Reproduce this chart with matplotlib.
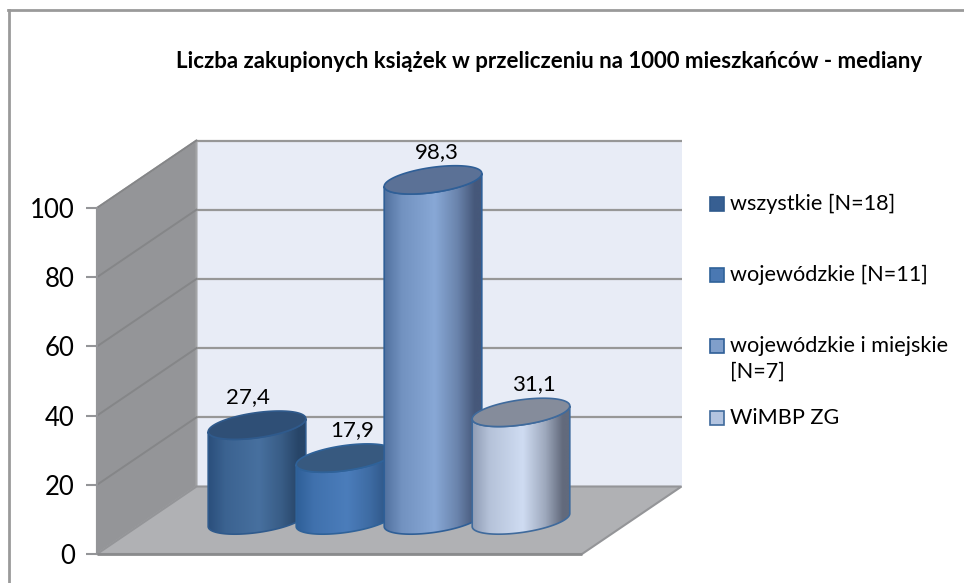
import matplotlib
matplotlib.use('Agg')
import matplotlib.pyplot as plt
import numpy as np
from matplotlib.patches import Polygon
from matplotlib.colors import LinearSegmentedColormap, to_rgb

plt.rcParams['font.family'] = ['Lato', 'DejaVu Sans']

title = 'Liczba zakupionych książek w przeliczeniu na 1000 mieszkańców - mediany'
series_names = ['wszystkie [N=18]', 'wojewódzkie [N=11]',
                'wojewódzkie i miejskie\n[N=7]', 'WiMBP ZG']
values = [27.4, 17.9, 98.3, 31.1]
value_labels = ['27,4', '17,9', '98,3', '31,1']
y_ticks = [0, 20, 40, 60, 80, 100]

edge_colors = ['#2f5a8c', '#2f6299', '#2f5f97', '#3f6a9c']
left_colors = ['#2a4f7c', '#2f5f98', '#51719f', '#8f9cb4']
mid_colors = ['#47709f', '#4b7dbb', '#88a8d6', '#cfdcf2']
right_colors = ['#274568', '#2f5788', '#46587a', '#626a7c']
top_colors = ['#2f4f76', '#37597f', '#5b7196', '#858c9b']
legend_colors = ['#375f92', '#4a78b2', '#809fcb', '#b3c4e0']

# label shift from the bar centre, in pixels
label_dx = [-9, 7, 4, 13]

W, H = 964, 583
PX_X = 88.0    # pixels per category step
PX_Y = 3.46    # pixels per value unit


def blend(a, b, f):
    a, b = np.array(to_rgb(a)), np.array(to_rgb(b))
    return tuple(a + (b - a) * f)


fig = plt.figure(figsize=(W / 100, H / 100), dpi=100)
ax = fig.add_axes([0, 0, 1, 1])
# x: category index, y: value on the front plane of the box
ax.set_xlim(-257 / PX_X, (W - 257) / PX_X)
ax.set_ylim(-(H - 554) / PX_Y, 554 / PX_Y)
ax.patch.set_alpha(0)

x0, x1 = (97 - 257) / PX_X, (582 - 257) / PX_X
dx, dy = 99.5 / PX_X, 67.5 / PX_Y
top = 100

# walls and floor
ax.add_patch(Polygon([(x0 + dx, dy), (x1 + dx, dy), (x1 + dx, dy + top), (x0 + dx, dy + top)],
                     fc='#e8ecf6', ec='none', zorder=1))
ax.add_patch(Polygon([(x0, 0), (x0 + dx, dy), (x0 + dx, dy + top), (x0, top)],
                     fc='#949598', ec='#a3a4a6', lw=1.5, zorder=2))
ax.add_patch(Polygon([(x0, 0), (x1, 0), (x1 + dx, dy), (x0 + dx, dy)],
                     fc='#b0b1b4', ec='#949598', lw=1.5, zorder=2))
for v in y_ticks[1:]:
    ax.plot([x0 + dx, x1 + dx], [v + dy, v + dy], color='#979797', lw=1.6, zorder=1.5,
            solid_capstyle='butt')
    ax.plot([x0, x0 + dx], [v, v + dy], color='#858688', lw=1.4, zorder=2.5)
ax.plot([x0, x1], [0, 0], color='#8a8b8d', lw=2, zorder=2.6, solid_capstyle='butt')

# cylinders, each one overlaps the one to its left
t = np.linspace(0, 2 * np.pi, 241)
half_w = 48.8 / PX_X
tilt, open_ = 6.5 / PX_Y, 12.6 / PX_Y
base = 34 / PX_Y

for i, v in enumerate(values):
    z = 5 + i
    ex = i + half_w * np.cos(t)
    ey = tilt * np.cos(t) + open_ * np.sin(t)
    front = t >= np.pi
    body_x = np.r_[ex[front], ex[front][::-1]]
    body_y = np.r_[base + ey[front], base + v + ey[front][::-1]]
    body = Polygon(np.c_[body_x, body_y], fc='none', ec=edge_colors[i], lw=1.2, zorder=z + 0.2)
    ax.add_patch(body)
    cmap = LinearSegmentedColormap.from_list(
        'c%d' % i, [(0, left_colors[i]), (0.18, blend(left_colors[i], mid_colors[i], 0.6)),
                    (0.52, mid_colors[i]), (0.75, blend(mid_colors[i], right_colors[i], 0.45)),
                    (0.93, right_colors[i]), (1, right_colors[i])])
    im = ax.imshow(np.linspace(0, 1, 200).reshape(1, -1), cmap=cmap, aspect='auto',
                   extent=[i - half_w, i + half_w, base - 10, base + v + 10], zorder=z,
                   interpolation='bilinear')
    im.set_clip_path(body)
    ax.fill(ex, base + v + ey, fc=top_colors[i], ec=edge_colors[i], lw=1.2, zorder=z + 0.4)
    ax.text(i + label_dx[i] / PX_X, base + v + open_ + 1.6, value_labels[i], ha='center',
            va='bottom', fontsize=16, color='black', zorder=20)

ax.set_xlim(-257 / PX_X, (W - 257) / PX_X)
ax.set_ylim(-(H - 554) / PX_Y, 554 / PX_Y)

# value axis on the front edge of the left wall
for s in ['top', 'right', 'bottom']:
    ax.spines[s].set_visible(False)
ax.spines['left'].set_position(('data', x0))
ax.spines['left'].set_bounds(0, 100)
ax.spines['left'].set_color('#949598')
ax.spines['left'].set_linewidth(1.5)
ax.set_yticks(y_ticks)
ax.tick_params(axis='y', length=8, width=1.5, color='#949598', labelsize=18.5, pad=8)
ax.set_xticks([])

# legend by hand, the swatch spacing is not regular
legend_y = [204, 275, 346, 418]
for name, c, e, ly in zip(series_names, legend_colors, edge_colors, legend_y):
    fig.add_artist(plt.Rectangle((710 / W, 1 - (ly + 7) / H), 14 / W, 14 / H, fc=c, ec=e, lw=1.2))
    fig.text(730 / W, 1 - ly / H, name.split('\n')[0], fontsize=15.6, va='center', ha='left')
    if '\n' in name:
        fig.text(730 / W, 1 - (ly + 26) / H, name.split('\n')[1], fontsize=15.6, va='center', ha='left')

fig.text(549.5 / W, 1 - 61 / H, title, fontsize=16, fontweight='bold', ha='center', va='center')

# frame, only top and left survive the crop
fig.add_artist(plt.Line2D([8.5 / W, 8.5 / W], [0, 1 - 10 / H], color='#9a9a9a', lw=2))
fig.add_artist(plt.Line2D([8 / W, 1], [1 - 10 / H, 1 - 10 / H], color='#9a9a9a', lw=2))

fig.savefig('out.png', dpi=100)
